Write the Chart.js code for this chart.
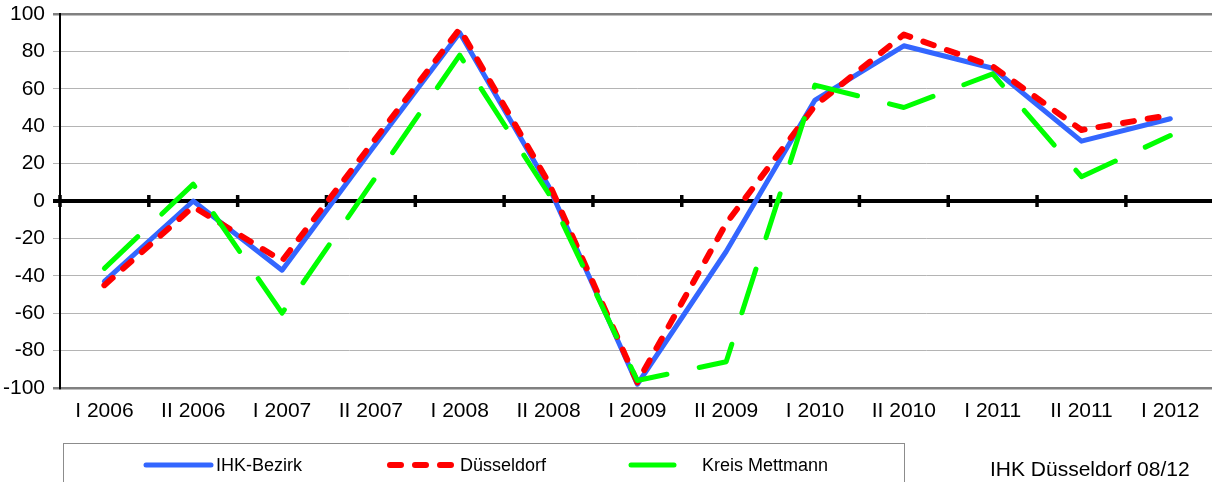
<!DOCTYPE html>
<html>
<head>
<meta charset="utf-8">
<script src="https://cdn.jsdelivr.net/npm/chart.js@4.4.1/dist/chart.umd.min.js"></script>
<style>
  html, body { margin: 0; padding: 0; background: #fff; overflow: hidden; }
  #wrap { position: relative; width: 1216px; height: 482px; }
</style>
</head>
<body>
<div id="wrap"><canvas id="c"></canvas></div>
<script>
const categories = ['I 2006','II 2006','I 2007','II 2007','I 2008','II 2008','I 2009','II 2009','I 2010','II 2010','I 2011','II 2011','I 2012'];
const ihkBezirk = [-43, 0, -37, 27, 90, 8, -98, -27, 54, 83, 71, 32, 44];
const duesseldorf = [-45, -3, -32, 30, 92, 10, -97, -12, 51, 89, 72, 38, 46];
const kreisMettmann = [-36, 9, -60, 9, 78, 4, -96, -86, 62, 50, 68, 13, 35];
const seriesNames = ['IHK-Bezirk', 'Düsseldorf', 'Kreis Mettmann'];
const yTicks = [-100, -80, -60, -40, -20, 0, 20, 40, 60, 80, 100];
const footerText = 'IHK Düsseldorf 08/12';

const FONT = '"Liberation Sans", Arial, sans-serif';
const BLUE = '#3366FF', RED = '#FF0000', GREEN = '#00FF00';

const extras = {
  id: 'extras',
  beforeDatasetsDraw(chart) {
    const ctx = chart.ctx, ca = chart.chartArea, y = chart.scales.y;
    const y0 = y.getPixelForValue(0);
    ctx.save();
    ctx.strokeStyle = '#000';
    ctx.lineWidth = 4;
    ctx.beginPath();
    ctx.moveTo(ca.left - 7, y0);
    ctx.lineTo(ca.right, y0);
    ctx.stroke();
    const step = (ca.right - ca.left) / categories.length;
    ctx.lineWidth = 3.5;
    for (let k = 0; k <= categories.length; k++) {
      const px = ca.left + k * step;
      ctx.beginPath();
      ctx.moveTo(px, y0 - 6);
      ctx.lineTo(px, y0 + 6);
      ctx.stroke();
    }
    ctx.restore();
  },
  afterDraw(chart) {
    const ctx = chart.ctx;
    ctx.save();
    ctx.strokeStyle = '#8c8c8c';
    ctx.lineWidth = 1;
    ctx.strokeRect(63.5, 443.5, 841, 60);
    ctx.lineCap = 'round';
    const ly = 465;
    ctx.strokeStyle = BLUE; ctx.lineWidth = 5;
    ctx.beginPath(); ctx.moveTo(146, ly); ctx.lineTo(211, ly); ctx.stroke();
    ctx.strokeStyle = RED; ctx.lineWidth = 6;
    ctx.setLineDash([11, 14]);
    ctx.beginPath(); ctx.moveTo(390, ly); ctx.lineTo(452, ly); ctx.stroke();
    ctx.setLineDash([]);
    ctx.strokeStyle = GREEN; ctx.lineWidth = 5;
    ctx.beginPath(); ctx.moveTo(631, ly); ctx.lineTo(674, ly); ctx.stroke();
    ctx.fillStyle = '#000';
    ctx.font = '18px ' + FONT;
    ctx.textBaseline = 'middle';
    ctx.textAlign = 'left';
    ctx.fillText(seriesNames[0], 216, ly + 1);
    ctx.fillText(seriesNames[1], 460, ly + 1);
    ctx.fillText(seriesNames[2], 702, ly + 1);
    ctx.font = '21px ' + FONT;
    ctx.fillText(footerText, 990, 470);
    ctx.restore();
  }
};

new Chart(document.getElementById('c'), {
  type: 'line',
  data: {
    labels: categories,
    datasets: [
      { label: seriesNames[0], data: ihkBezirk, borderColor: BLUE, borderWidth: 5, order: 2,
        pointRadius: 0, tension: 0, fill: false, borderCapStyle: 'round', borderJoinStyle: 'round' },
      { label: seriesNames[1], data: duesseldorf, borderColor: RED, borderWidth: 6, order: 1,
        borderDash: [11, 14], pointRadius: 0, tension: 0, fill: false, borderCapStyle: 'round', borderJoinStyle: 'round' },
      { label: seriesNames[2], data: kreisMettmann, borderColor: GREEN, borderWidth: 5, order: 0,
        borderDash: [46, 33], pointRadius: 0, tension: 0, fill: false, borderCapStyle: 'round', borderJoinStyle: 'round' }
    ]
  },
  options: {
    responsive: true,
    maintainAspectRatio: false,
    animation: false,
    events: [],
    layout: { padding: { top: 14, right: 1.3, left: 0, bottom: 0 } },
    plugins: { legend: { display: false }, tooltip: { enabled: false }, title: { display: false } },
    scales: {
      x: {
        type: 'category',
        offset: true,
        grid: { display: false, drawTicks: false },
        border: { display: false },
        ticks: { color: '#000', font: { family: FONT, size: 21 }, padding: 11, maxRotation: 0, autoSkip: false },
        afterFit(s) { s.height = 94; s.paddingLeft = 0; s.paddingRight = 0; }
      },
      y: {
        min: -100, max: 100,
        afterBuildTicks(s) { s.ticks = yTicks.map(v => ({ value: v })); },
        grid: {
          color(c) { const v = c.tick.value; return v === 0 ? '#000' : (Math.abs(v) === 100 ? '#808080' : '#b4b4b4'); },
          lineWidth(c) { const v = c.tick.value; return v === 0 ? 4 : (Math.abs(v) === 100 ? 2.5 : 1); },
          tickLength: 7
        },
        border: { display: true, color: '#000', width: 2 },
        ticks: { color: '#000', font: { family: FONT, size: 21 }, padding: 8 },
        afterFit(s) { s.width = 60; s.paddingTop = 0; s.paddingBottom = 0; }
      }
    }
  },
  plugins: [extras]
});
</script>
</body>
</html>
